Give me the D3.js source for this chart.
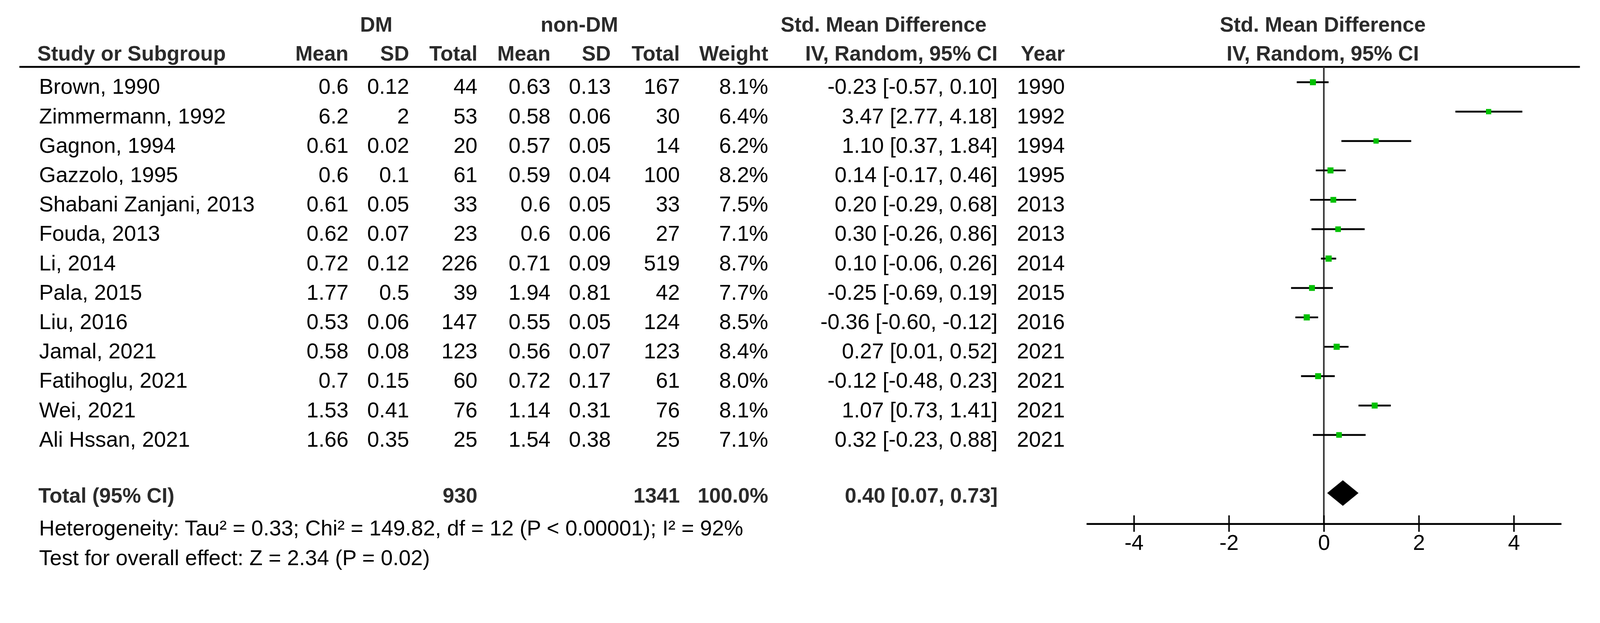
<!DOCTYPE html>
<html>
<head>
<meta charset="utf-8">
<script src="https://cdn.jsdelivr.net/npm/d3@7"></script>
<style>
  html, body { margin: 0; padding: 0; width: 100%; height: 100%; overflow: hidden; background: #fff; }
  #svg { display: block; width: 100vw; height: 100vh; }
  text { font-family: "Liberation Sans", Arial, sans-serif; }
</style>
</head>
<body>
<svg id="svg" viewBox="0 0 4380 1594" preserveAspectRatio="xMidYMin meet"></svg>
<script>
// study data
const studies = ["Brown, 1990", "Zimmermann, 1992", "Gagnon, 1994", "Gazzolo, 1995", "Shabani Zanjani, 2013",
  "Fouda, 2013", "Li, 2014", "Pala, 2015", "Liu, 2016", "Jamal, 2021", "Fatihoglu, 2021", "Wei, 2021", "Ali Hssan, 2021"];
const dmMean = [0.6, 6.2, 0.61, 0.6, 0.61, 0.62, 0.72, 1.77, 0.53, 0.58, 0.7, 1.53, 1.66];
const dmSD = [0.12, 2, 0.02, 0.1, 0.05, 0.07, 0.12, 0.5, 0.06, 0.08, 0.15, 0.41, 0.35];
const dmTotal = [44, 53, 20, 61, 33, 23, 226, 39, 147, 123, 60, 76, 25];
const nonMean = [0.63, 0.58, 0.57, 0.59, 0.6, 0.6, 0.71, 1.94, 0.55, 0.56, 0.72, 1.14, 1.54];
const nonSD = [0.13, 0.06, 0.05, 0.04, 0.05, 0.06, 0.09, 0.81, 0.05, 0.07, 0.17, 0.31, 0.38];
const nonTotal = [167, 30, 14, 100, 33, 27, 519, 42, 124, 123, 61, 76, 25];
const weight = [8.1, 6.4, 6.2, 8.2, 7.5, 7.1, 8.7, 7.7, 8.5, 8.4, 8.0, 8.1, 7.1];
const smd = [-0.23, 3.47, 1.10, 0.14, 0.20, 0.30, 0.10, -0.25, -0.36, 0.27, -0.12, 1.07, 0.32];
const ciLow = [-0.57, 2.77, 0.37, -0.17, -0.29, -0.26, -0.06, -0.69, -0.60, 0.01, -0.48, 0.73, -0.23];
const ciHigh = [0.10, 4.18, 1.84, 0.46, 0.68, 0.86, 0.26, 0.19, -0.12, 0.52, 0.23, 1.41, 0.88];
const years = [1990, 1992, 1994, 1995, 2013, 2013, 2014, 2015, 2016, 2021, 2021, 2021, 2021];

const total = { dm: 930, non: 1341, weight: 100.0, est: 0.40, lo: 0.07, hi: 0.73 };
const heterogeneity = "Heterogeneity: Tau\u00b2 = 0.33; Chi\u00b2 = 149.82, df = 12 (P < 0.00001); I\u00b2 = 92%";
const overall = "Test for overall effect: Z = 2.34 (P = 0.02)";
const axisTicks = [-4, -2, 0, 2, 4];

const svg = d3.select("#svg");
const REG = 59, BOLD = 57;
const dark = "#2b2b2b";

const x = d3.scaleLinear().domain([-5, 5]).range([2974, 4274]);
const y = d3.scalePoint().domain(studies).range([257, 1222]);
const side = d3.scaleSqrt().domain([0, 8.7]).range([0, 17]);

const headY1 = 87, headY2 = 166, ruleY = 183, totalY = 1375, axisY = 1433;

// column right edges
const cols = { dmMean: 954, dmSD: 1120, dmTotal: 1307, nonMean: 1507, nonSD: 1672, nonTotal: 1861, weight: 2103, ci: 2731, year: 2915 };

function txt(xp, yp, s, anchor, bold) {
  return svg.append("text").attr("x", xp).attr("y", yp).attr("text-anchor", anchor || "start")
    .style("font-size", (bold ? BOLD : REG) + "px").style("font-weight", bold ? 700 : 400)
    .style("fill", bold ? dark : "#000").text(s);
}

// headers
txt(1030, headY1, "DM", "middle", true);
txt(1586, headY1, "non-DM", "middle", true);
txt(2419, headY1, "Std. Mean Difference", "middle", true);
txt(3621, headY1, "Std. Mean Difference", "middle", true);
txt(102, headY2, "Study or Subgroup", "start", true);
txt(cols.dmMean, headY2, "Mean", "end", true);
txt(cols.dmSD, headY2, "SD", "end", true);
txt(cols.dmTotal, headY2, "Total", "end", true);
txt(cols.nonMean, headY2, "Mean", "end", true);
txt(cols.nonSD, headY2, "SD", "end", true);
txt(cols.nonTotal, headY2, "Total", "end", true);
txt(cols.weight, headY2, "Weight", "end", true);
txt(cols.ci, headY2, "IV, Random, 95% CI", "end", true);
txt(cols.year, headY2, "Year", "end", true);
txt(3621, headY2, "IV, Random, 95% CI", "middle", true);

svg.append("line").attr("x1", 53).attr("x2", 4325).attr("y1", ruleY).attr("y2", ruleY)
  .attr("stroke", "#000").attr("stroke-width", 5);

// study rows
studies.forEach((s, i) => {
  const yy = y(s);
  txt(107, yy, s);
  txt(cols.dmMean, yy, String(dmMean[i]), "end");
  txt(cols.dmSD, yy, String(dmSD[i]), "end");
  txt(cols.dmTotal, yy, String(dmTotal[i]), "end");
  txt(cols.nonMean, yy, String(nonMean[i]), "end");
  txt(cols.nonSD, yy, String(nonSD[i]), "end");
  txt(cols.nonTotal, yy, String(nonTotal[i]), "end");
  txt(cols.weight, yy, weight[i].toFixed(1) + "%", "end");
  txt(cols.ci, yy, smd[i].toFixed(2) + " [" + ciLow[i].toFixed(2) + ", " + ciHigh[i].toFixed(2) + "]", "end");
  txt(cols.year, yy, String(years[i]), "end");
});

// total row and footnotes
txt(105, totalY, "Total (95% CI)", "start", true);
txt(cols.dmTotal, totalY, String(total.dm), "end", true);
txt(cols.nonTotal, totalY, String(total.non), "end", true);
txt(cols.weight, totalY, total.weight.toFixed(1) + "%", "end", true);
txt(cols.ci, totalY, total.est.toFixed(2) + " [" + total.lo.toFixed(2) + ", " + total.hi.toFixed(2) + "]", "end", true);
txt(107, 1465, heterogeneity);
txt(107, 1546, overall);

// zero line
svg.append("line").attr("x1", x(0)).attr("x2", x(0)).attr("y1", ruleY).attr("y2", axisY)
  .attr("stroke", "#3a3a3a").attr("stroke-width", 4.5);

// confidence intervals and squares
const g = svg.append("g");
studies.forEach((s, i) => {
  const cy = y(s) - 32;
  g.append("line").attr("x1", x(ciLow[i])).attr("x2", x(ciHigh[i])).attr("y1", cy).attr("y2", cy)
    .attr("stroke", "#000").attr("stroke-width", 5);
  const w = side(weight[i]);
  g.append("rect").attr("x", x(smd[i]) - w / 2).attr("y", cy - w / 2).attr("width", w).attr("height", w)
    .attr("fill", "#00c000");
});

// diamond
const dy = totalY - 26;
svg.append("polygon")
  .attr("points", [[x(total.lo), dy], [x(total.est), dy - 35], [x(total.hi), dy], [x(total.est), dy + 35]].map(p => p.join(",")).join(" "))
  .attr("fill", "#000");

// axis
const axis = d3.axisBottom(x).tickValues(axisTicks).tickFormat(d => String(d)).tickSizeInner(22).tickSizeOuter(0).tickPadding(8);
const ax = svg.append("g").attr("transform", "translate(0," + axisY + ")").call(axis);
ax.select(".domain").attr("stroke", "#000").attr("stroke-width", 5);
ax.selectAll(".tick line").attr("y1", -23).attr("y2", 22).attr("stroke", "#000").attr("stroke-width", 4);
ax.selectAll(".tick text").style("font-size", REG + "px").style("font-family", "Liberation Sans, Arial, sans-serif")
  .attr("fill", "#000").attr("dy", null).attr("y", 72);
</script>
</body>
</html>
